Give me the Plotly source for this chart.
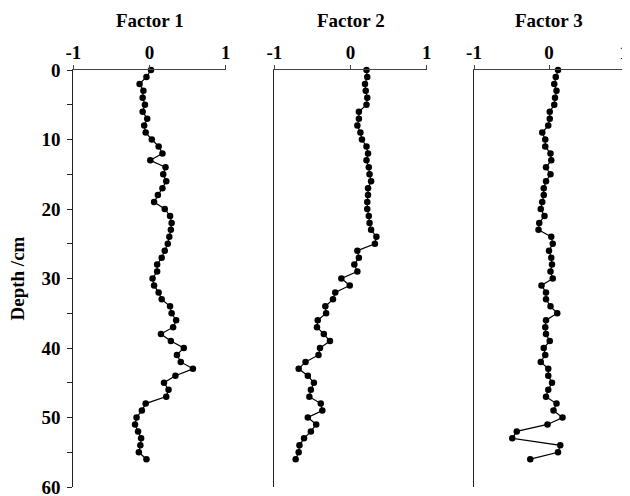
import plotly.graph_objects as go

depth = list(range(0, 57))

factor1 = [0.02, -0.04, -0.13, -0.08, -0.09, -0.06, -0.09, -0.03, -0.07, -0.05,
           0.03, 0.12, 0.17, 0.01, 0.21, 0.18, 0.22, 0.17, 0.11, 0.06,
           0.20, 0.27, 0.29, 0.28, 0.26, 0.24, 0.20, 0.16, 0.10, 0.10,
           0.04, 0.06, 0.12, 0.16, 0.27, 0.29, 0.35, 0.31, 0.15, 0.28,
           0.45, 0.36, 0.41, 0.57, 0.34, 0.19, 0.25, 0.22, -0.05, -0.10,
           -0.17, -0.19, -0.15, -0.11, -0.12, -0.14, -0.04]

factor2 = [0.21, 0.22, 0.19, 0.20, 0.22, 0.21, 0.11, 0.11, 0.09, 0.13,
           0.15, 0.21, 0.23, 0.21, 0.24, 0.25, 0.27, 0.23, 0.23, 0.22,
           0.22, 0.24, 0.25, 0.27, 0.34, 0.32, 0.09, 0.11, 0.05, 0.09,
           -0.12, -0.01, -0.20, -0.23, -0.33, -0.32, -0.43, -0.44, -0.35, -0.27,
           -0.40, -0.42, -0.59, -0.68, -0.56, -0.48, -0.52, -0.54, -0.39, -0.37,
           -0.56, -0.45, -0.52, -0.61, -0.67, -0.68, -0.72]

factor3 = [0.12, 0.09, 0.07, 0.10, 0.08, 0.07, 0.01, 0.01, -0.01, -0.09,
           -0.05, -0.05, 0.02, 0.03, -0.04, 0.02, -0.04, -0.07, -0.07, -0.09,
           -0.11, -0.06, -0.13, -0.14, 0.03, 0.05, 0.00, 0.03, 0.04, 0.02,
           0.05, -0.10, -0.04, -0.04, 0.02, 0.11, -0.04, -0.05, -0.04, 0.01,
           -0.07, -0.05, -0.11, -0.01, -0.01, 0.04, -0.01, -0.04, 0.10, 0.06,
           0.18, -0.02, -0.43, -0.49, 0.15, 0.12, -0.25]

titles = ["Factor 1", "Factor 2", "Factor 3"]
x_ticks = [-1, 0, 1]
x_ticktext = ["-1", "0", "1"]
y_ticks = [0, 5, 10, 15, 20, 25, 30, 35, 40, 45, 50, 55, 60]
y_ticktext = ["0", "", "10", "", "20", "", "30", "", "40", "", "50", "", "60"]

# page body has an 8px margin, so the figure is drawn 8px in from the window corner
OFF = 8
W, H = 630 - OFF, 496 - OFF
MT = 70 - OFF
MB = H - (487 - OFF)
domains_px = [(73.3 - OFF, 225.7 - OFF), (274.3 - OFF, 426.7 - OFF), (474.0 - OFF, 624.0 - OFF)]
domains = [[a / W, b / W] for a, b in domains_px]

FONT = "Liberation Serif, Times New Roman, serif"
AX = "#444444"
FS = 19

fig = go.Figure()
series = [factor1, factor2, factor3]
for i, vals in enumerate(series):
    sfx = "" if i == 0 else str(i + 1)
    fig.add_trace(go.Scatter(
        x=vals, y=depth, mode="lines+markers",
        xaxis="x" + sfx, yaxis="y" + sfx,
        line=dict(color="black", width=1.2),
        marker=dict(color="black", size=6.5),
        showlegend=False, cliponaxis=False,
    ))

layout = dict(
    width=W, height=H,
    margin=dict(l=0, r=0, t=MT, b=MB, autoexpand=False),
    paper_bgcolor="white", plot_bgcolor="white",
    font=dict(family=FONT, color="black"),
)
for i in range(3):
    sfx = "" if i == 0 else str(i + 1)
    layout["xaxis" + sfx] = dict(
        domain=domains[i], range=[-1, 1], side="top",
        anchor="y" + sfx, automargin=False,
        tickvals=x_ticks, ticktext=x_ticktext,
        ticks="outside", ticklen=4, tickcolor=AX, tickwidth=1,
        showline=True, linecolor=AX, linewidth=1,
        showgrid=False, zeroline=False,
        tickfont=dict(family=FONT, size=FS, color="black", weight="bold"),
        ticklabelstandoff=-2, ticklabeloverflow="allow",
    )
    ydict = dict(
        domain=[0, 1], range=[60, 0], anchor="x" + sfx, automargin=False,
        showline=True, linecolor="#222222", linewidth=1,
        showgrid=False, zeroline=False,
    )
    if i == 0:
        ydict.update(
            tickvals=y_ticks, ticktext=y_ticktext,
            ticks="outside", ticklen=5, tickcolor="#222222",
            tickfont=dict(family=FONT, size=FS, color="black", weight="bold"),
            ticklabelstandoff=3, ticklabeloverflow="allow",
        )
    else:
        ydict.update(showticklabels=False, ticks="")
    layout["yaxis" + sfx] = ydict

plot_h = H - MT - MB
annotations = []
for i, t in enumerate(titles):
    cx = (domains_px[i][0] + domains_px[i][1]) / 2 / W
    annotations.append(dict(
        text="<b>" + t + "</b>", x=cx, y=1 + (MT - (20 - OFF)) / plot_h,
        xref="paper", yref="paper", xanchor="center", yanchor="middle",
        showarrow=False, font=dict(family=FONT, size=FS, color="black"),
    ))
annotations.append(dict(
    text="<b>Depth /cm</b>", x=(17 - OFF) / W, y=0.5,
    xref="paper", yref="paper", xanchor="center", yanchor="middle",
    textangle=-90, showarrow=False,
    font=dict(family=FONT, size=FS, color="black"),
))
layout["annotations"] = annotations
fig.update_layout(**layout)

fig.write_html("out.html")
